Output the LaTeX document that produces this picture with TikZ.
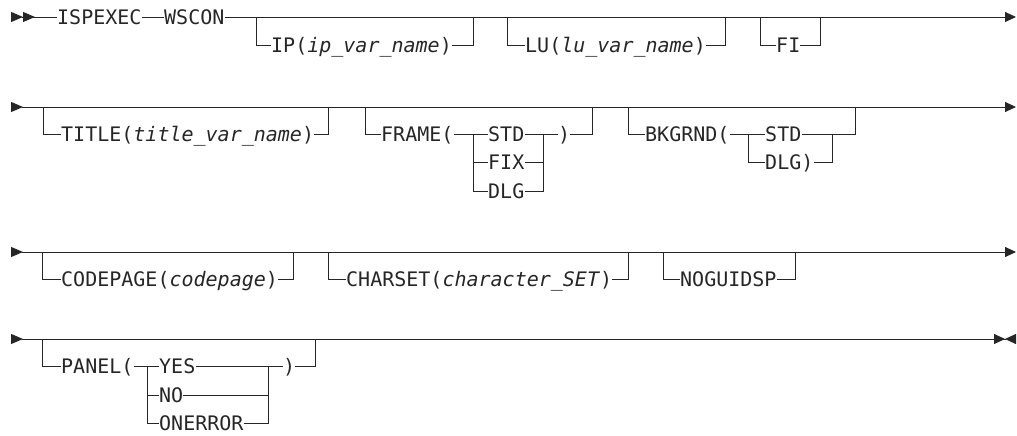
\documentclass[tikz,border=0pt]{standalone}
\usepackage{fontspec}
\usepackage{tikz}
\usetikzlibrary{arrows.meta}
\newfontfamily\railfont{DejaVu Sans Mono}
\newcommand{\railtext}{\railfont\fontsize{20pt}{24pt}\selectfont}
\tikzstyle{kw} = [font=\railtext, text=black!85,
    inner sep=0pt, text height=14.6pt, text depth=0pt,
    anchor=west]
\tikzstyle{rail} = [draw=black!85, line width=0.9pt]
\tikzstyle{gohead} = [{Triangle[length=12pt,width=10pt,reversed]}-{Triangle[length=11pt,width=10pt]}]

\begin{document}
\begin{tikzpicture}[x=1pt, y=-1pt]
    \useasboundingbox (0,0) rectangle (1017,436);
    % row 1
    \coordinate (go1) at (11,17);
    \coordinate (end1) at (1016,17);
    \node [kw] (ispexec) at (57,17) {ISPEXEC};
    \node [kw] (wscon) at (164,17) {WSCON};
    \draw [rail, {Triangle[length=12pt,width=10pt,reversed]Triangle[length=12pt,width=10pt,reversed]}-] 
        (go1) -- (ispexec);
    \draw [rail] (ispexec) -- (wscon);
    \draw [rail, -{Triangle[length=11pt,width=10pt]}] (wscon) -- (end1);
    \coordinate (ipin) at (256,17);
    \coordinate (ipout) at (473,17);
    \node [kw] (ip) at (271,45) {IP(\textit{ip\_var\_name})};
    \draw [rail] (ipin) |- (ip);
    \draw [rail] (ip) -| (ipout);
    \coordinate (luin) at (507,17);
    \coordinate (luout) at (725,17);
    \node [kw] (lu) at (525,45) {LU(\textit{lu\_var\_name})};
    \draw [rail] (luin) |- (lu);
    \draw [rail] (lu) -| (luout);
    \coordinate (fiin) at (760,17);
    \coordinate (fiout) at (820,17);
    \node [kw] (fi) at (776,45) {FI};
    \draw [rail] (fiin) |- (fi);
    \draw [rail] (fi) -| (fiout);
    % row 2
    \coordinate (go2) at (11,107);
    \coordinate (end2) at (1016,107);
    \draw [rail, gohead] (go2) -- (end2);
    \coordinate (titlein) at (43,107);
    \coordinate (titleout) at (328,107);
    \node [kw] (title) at (61,134) {TITLE(\textit{title\_var\_name})};
    \draw [rail] (titlein) |- (title);
    \draw [rail] (title) -| (titleout);
    \coordinate (framein) at (365,107);
    \coordinate (frameout) at (592,107);
    \coordinate (ffork) at (473,134);
    \coordinate (fjoin) at (543,134);
    \node [kw] (frame) at (381,134) {FRAME(};
    \node [kw] (fstd) at (488,134) {STD};
    \node [kw] (ffix) at (488,162.5) {FIX};
    \node [kw] (fdlg) at (488,191) {DLG};
    \node [kw] (fclose) at (558,134) {)};
    \draw [rail] (framein) |- (frame);
    \draw [rail] (frame) -- (fstd);
    \draw [rail] (fstd) -- (fclose);
    \draw [rail] (fclose) -| (frameout);
    \draw [rail] (ffork) |- (ffix);
    \draw [rail] (ffork) |- (fdlg);
    \draw [rail] (ffix) -| (fjoin);
    \draw [rail] (fdlg) -| (fjoin);
    \coordinate (bgin) at (628,107);
    \coordinate (bgout) at (855,107);
    \coordinate (bfork) at (748,134);
    \coordinate (bjoin) at (832,134);
    \node [kw] (bkgrnd) at (645,134) {BKGRND(};
    \node [kw] (bstd) at (765,134) {STD};
    \node [kw] (bdlg) at (765,162.5) {DLG)};
    \draw [rail] (bgin) |- (bkgrnd);
    \draw [rail] (bkgrnd) -- (bstd);
    \draw [rail] (bstd) -| (bgout);
    \draw [rail] (bfork) |- (bdlg);
    \draw [rail] (bdlg) -| (bjoin);
    % row 3
    \coordinate (go3) at (11,252);
    \coordinate (end3) at (1016,252);
    \draw [rail, gohead] (go3) -- (end3);
    \coordinate (cpin) at (42,252);
    \coordinate (cpout) at (293,252);
    \node [kw] (codepage) at (61,279.5) {CODEPAGE(\textit{codepage})};
    \draw [rail] (cpin) |- (codepage);
    \draw [rail] (codepage) -| (cpout);
    \coordinate (csin) at (328,252);
    \coordinate (csout) at (628,252);
    \node [kw] (charset) at (346,279.5) {CHARSET(\textit{character\_SET})};
    \draw [rail] (csin) |- (charset);
    \draw [rail] (charset) -| (csout);
    \coordinate (ngin) at (663,252);
    \coordinate (ngout) at (795,252);
    \node [kw] (noguidsp) at (680,279.5) {NOGUIDSP};
    \draw [rail] (ngin) |- (noguidsp);
    \draw [rail] (noguidsp) -| (ngout);
    % row 4
    \coordinate (go4) at (11,339);
    \coordinate (end4) at (1016,339);
    \draw [rail, {Triangle[length=12pt,width=10pt,reversed]}-{Triangle[length=11pt,width=10pt]Triangle[length=11pt,width=10pt,reversed]}] 
        (go4) -- (end4);
    \coordinate (pin) at (42,339);
    \coordinate (pout) at (315,339);
    \coordinate (pfork) at (147,366.5);
    \coordinate (pjoin) at (268,366.5);
    \node [kw] (panel) at (61,366.5) {PANEL(};
    \node [kw] (pyes) at (159,366.5) {YES};
    \node [kw] (pno) at (159,395) {NO};
    \node [kw] (poner) at (159,423.5) {ONERROR};
    \node [kw] (pclose) at (283,366.5) {)};
    \draw [rail] (pin) |- (panel);
    \draw [rail] (panel) -- (pyes);
    \draw [rail] (pyes) -- (pclose);
    \draw [rail] (pclose) -| (pout);
    \draw [rail] (pfork) |- (pno);
    \draw [rail] (pfork) |- (poner);
    \draw [rail] (pno) -| (pjoin);
    \draw [rail] (poner) -| (pjoin);
\end{tikzpicture}
\end{document}
